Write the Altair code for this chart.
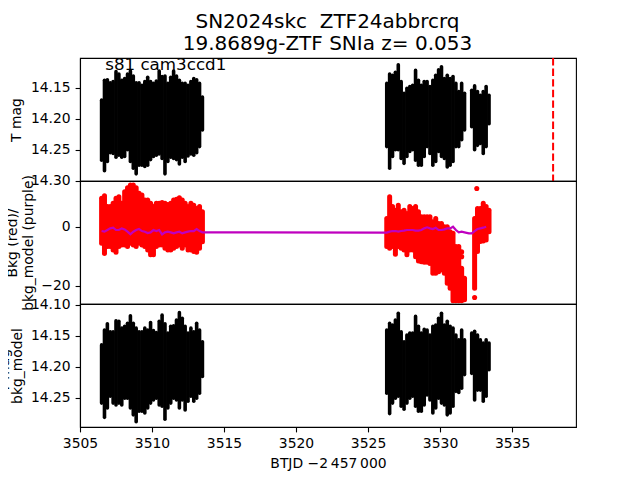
import altair as alt
import pandas as pd

A_X = [3506.5,3506.7,3506.9,3507.1,3507.3,3507.5,3507.7,3507.9,3508.1,3508.3,3508.5,3508.7,3508.9,3509.1,3509.3,3509.5,3509.7,3509.9,
       3510.1,3510.3,3510.5,3510.7,3510.9,3511.1,3511.3,3511.5,3511.7,3511.9,3512.1,3512.3,3512.5,3512.7,3512.9,3513.1,3513.3,3513.5]
B_X = [3526.3,3526.5,3526.7,3526.9,3527.1,3527.3,3527.5,3527.7,3527.9,3528.1,3528.3,3528.5,3528.7,3528.9,
       3529.1,3529.3,3529.5,3529.7,3529.9,3530.1,3530.3,3530.5,3530.7,3530.9,3531.1,3531.3,3531.5,3531.7]
C_X = [3532.2,3532.4,3532.6,3532.8,3533.0,3533.2,3533.4]

MAG_A_TOP = [14.170,14.138,14.137,14.142,14.140,14.124,14.128,14.138,14.135,14.128,14.123,14.131,14.142,14.142,14.146,14.140,14.133,14.140,
             14.143,14.139,14.123,14.132,14.131,14.143,14.133,14.123,14.131,14.138,14.143,14.143,14.146,14.140,14.135,14.137,14.143,14.165]
MAG_A_BOT = [14.267,14.284,14.269,14.255,14.256,14.262,14.259,14.262,14.261,14.250,14.269,14.280,14.289,14.275,14.275,14.277,14.275,14.266,
             14.261,14.259,14.257,14.264,14.289,14.269,14.262,14.264,14.266,14.273,14.262,14.269,14.260,14.257,14.259,14.255,14.245,14.218]
MAG_B_TOP = [14.143,14.128,14.130,14.125,14.113,14.140,14.159,14.151,14.148,14.146,14.122,14.138,14.146,14.140,
             14.140,14.148,14.138,14.130,14.121,14.116,14.135,14.130,14.135,14.132,14.143,14.156,14.143,14.159]
MAG_B_BOT = [14.245,14.280,14.261,14.250,14.250,14.264,14.272,14.261,14.253,14.250,14.267,14.275,14.275,14.261,
             14.245,14.256,14.275,14.269,14.253,14.261,14.264,14.278,14.275,14.269,14.245,14.245,14.234,14.218]
MAG_C_TOP = [14.154,14.147,14.156,14.162,14.156,14.148,14.162]
MAG_C_BOT = [14.213,14.250,14.243,14.240,14.256,14.245,14.208]

BKG_A_TOP = [9.6,10.5,6.8,6.8,7.9,9.6,10.1,7.9,11.8,13.2,14.1,14.1,13.2,11.3,10.7,9.0,9.0,7.9,
             6.8,7.9,7.9,8.2,7.9,7.5,7.9,9.0,9.3,9.8,9.0,7.9,6.8,7.9,7.3,6.2,6.8,5.1]
BKG_A_BOT = [-5.6,-9.0,-6.7,-6.7,-7.9,-8.6,-6.7,-6.2,-6.2,-6.7,-5.6,-6.2,-6.7,-5.6,-6.2,-6.7,-7.9,-9.5,
             -9.5,-6.7,-6.2,-6.2,-7.3,-7.9,-7.9,-7.3,-6.7,-6.2,-7.3,-6.2,-7.9,-7.9,-8.4,-8.6,-7.3,-5.1]
BKG_B_TOP = [2.8,10.1,6.8,5.6,7.3,5.1,5.6,4.5,6.8,6.2,6.8,5.1,3.4,3.4,
             3.4,3.4,1.7,2.8,1.1,1.1,0.0,0.0,-1.7,-2.2,-6.7,-6.7,-14.0,-17.4]
BKG_B_BOT = [-6.7,-7.3,-6.7,-9.3,-6.7,-7.3,-7.9,-9.5,-7.9,-7.9,-10.1,-11.6,-11.8,-12.0,
             -12.0,-12.4,-15.7,-15.7,-15.2,-14.6,-15.7,-19.1,-20.8,-25.0,-25.0,-25.0,-25.0,-24.7]
BKG_C_X = [3532.4,3532.6,3532.8,3533.0,3533.2,3533.4]
BKG_C_TOP = [2.8,6.2,6.2,7.9,6.8,5.6]
BKG_C_BOT = [-20.8,-8.4,-5.0,-4.8,-4.5,-1.7]
BKG_OUT_X = [3532.4,3532.55,3531.5,3531.5]
BKG_OUT_Y = [-23.9,12.9,-10.1,-8.5]

MOD_X = A_X + [3526.1] + B_X + [3532.0] + C_X[:-1]
MOD_Y = [-1.45,-1.67,-1.11,-0.55,-0.32,-1.11,-1.11,-0.55,-0.89,-1.67,-2.57,-1.67,-1.11,-0.77,-1.45,-1.67,-2.12,-1.9,
         -1.11,-1.45,-1.11,-2.57,-1.9,-1.67,-1.9,-2.23,-1.9,-1.67,-2.23,-1.9,-1.67,-1.45,-1.45,-0.77,-1.45,-1.9,
         -2.0,
         -2.0,-1.67,-1.45,-1.45,-1.67,-1.45,-1.33,-1.11,-1.11,-1.11,-1.33,-1.33,-1.11,-0.55,
         -0.2,-0.55,-0.77,-0.32,-1.11,-1.11,-0.89,-0.55,-0.55,0.01,-1.11,-1.9,-1.67,-1.9,
         -2.23,-2.23,-1.45,-0.77,-0.55,-0.32,0.01]

MAG3_A_TOP = [14.165,14.141,14.131,14.144,14.144,14.126,14.127,14.138,14.135,14.130,14.118,14.130,14.138,14.144,14.144,14.138,14.141,14.129,
              14.142,14.145,14.127,14.117,14.131,14.146,14.135,14.134,14.125,14.113,14.122,14.135,14.146,14.138,14.144,14.130,14.141,14.160]
MAG3_A_BOT = [14.259,14.282,14.267,14.248,14.259,14.262,14.259,14.262,14.251,14.251,14.267,14.278,14.289,14.272,14.272,14.275,14.267,14.259,
              14.254,14.251,14.262,14.264,14.285,14.267,14.259,14.251,14.254,14.267,14.254,14.270,14.256,14.248,14.256,14.251,14.243,14.216]
MAG3_B_TOP = [14.141,14.130,14.133,14.125,14.114,14.144,14.160,14.149,14.146,14.146,14.119,14.135,14.146,14.140,
              14.141,14.149,14.135,14.133,14.122,14.114,14.133,14.127,14.135,14.138,14.149,14.157,14.141,14.157]
MAG3_B_BOT = [14.243,14.276,14.259,14.251,14.248,14.264,14.269,14.259,14.251,14.248,14.264,14.272,14.272,14.262,
              14.246,14.254,14.275,14.267,14.251,14.259,14.262,14.278,14.275,14.264,14.240,14.242,14.235,14.213]
MAG3_C_TOP = [14.146,14.143,14.149,14.157,14.162,14.157,14.162]
MAG3_C_BOT = [14.211,14.254,14.238,14.238,14.256,14.248,14.205]

SN_EPOCH = [3537.85]
X_TICKS = [3505,3510,3515,3520,3525,3530,3535]
XDOM = [3505.0, 3539.44]
FONT = "DejaVu Sans"
W, H = 496, 123

def cols(xs, lo, hi):
    return pd.DataFrame({"x": xs, "lo": lo, "hi": hi})

xscale = alt.Scale(domain=XDOM, nice=False, zero=False)
def yaxis(ticks, fmt, title, tx, lh=16.7):
    return alt.Axis(values=ticks, format=fmt, title=title, grid=False, tickSize=4.9, tickWidth=1.1,
                    tickColor="black", domainColor="black", domainWidth=1.1, labelColor="black", titleColor="black",
                    labelFontSize=13.9, titleFontSize=13.9, titleFontWeight="normal", labelFont=FONT,
                    titleFont=FONT, labelOverlap=False, labelFlush=False, titleLineHeight=lh, labelPadding=4.9,
                    titleX=tx, titleAngle=270, titleAlign="center", titleBaseline="bottom")
NOX = alt.X("x:Q", scale=xscale, axis=None)

def band(df, ys, ax, color, sw, x=NOX):
    return alt.Chart(df).mark_rule(color=color, strokeWidth=sw, strokeCap="round", clip=True).encode(
        x=x, y=alt.Y("lo:Q", scale=ys, axis=ax), y2="hi:Q")

# top
ys1 = alt.Scale(domain=[14.3005, 14.102], nice=False, zero=False)
ax1 = yaxis([14.15,14.20,14.25,14.30], ".2f", "T mag", -57)
d1 = cols(A_X+B_X+C_X, MAG_A_BOT+MAG_B_BOT+MAG_C_BOT, MAG_A_TOP+MAG_B_TOP+MAG_C_TOP)
p1 = band(d1, ys1, ax1, "black", 3.6)
vline = alt.Chart(pd.DataFrame({"x": SN_EPOCH})).mark_rule(color="red", strokeWidth=2, strokeDash=[7.4,3.2]).encode(
    x=NOX)
note = alt.Chart(pd.DataFrame({"x": [3506.75], "t": ["s81 cam3ccd1"]})).mark_text(
    font=FONT, fontSize=16.7, align="left", baseline="middle", color="black"
).encode(x=NOX, y=alt.value(7), text="t:N")
top = alt.layer(p1, vline, note).properties(width=W, height=H)

# middle
ys2 = alt.Scale(domain=[-26.1, 15.45], nice=False, zero=False)
ax2 = yaxis([-20,0], "d", ["Bkg (red)/", "bkg_model (purple)"], -61)
d2 = cols(A_X+B_X+BKG_C_X, BKG_A_BOT+BKG_B_BOT+BKG_C_BOT, BKG_A_TOP+BKG_B_TOP+BKG_C_TOP)
p2 = band(d2, ys2, ax2, "red", 5)
out = alt.Chart(pd.DataFrame({"x": BKG_OUT_X, "lo": BKG_OUT_Y})).mark_circle(color="red", size=26, opacity=1).encode(
    x=NOX, y=alt.Y("lo:Q", scale=ys2, axis=ax2))
model = alt.Chart(pd.DataFrame({"x": MOD_X, "lo": MOD_Y})).mark_line(color="#bf00bf", strokeWidth=2.2).encode(
    x=NOX, y=alt.Y("lo:Q", scale=ys2, axis=ax2), order="x:Q")
mid = alt.layer(p2, out, model).properties(width=W, height=H)

# bottom
ys3 = alt.Scale(domain=[14.2976, 14.099], nice=False, zero=False)
ax3 = yaxis([14.10,14.15,14.20,14.25], ".2f", ["T mag -", "bkg_model"], -69, lh=13)
d3 = cols(A_X+B_X+C_X, MAG3_A_BOT+MAG3_B_BOT+MAG3_C_BOT, MAG3_A_TOP+MAG3_B_TOP+MAG3_C_TOP)
xax = alt.X("x:Q", scale=xscale, axis=alt.Axis(values=X_TICKS, format="d", title="BTJD \u22122\u2009457\u2009000", grid=False,
             tickSize=4.9, tickWidth=1.1, tickColor="black", domainColor="black", domainWidth=1.1, labelColor="black", titleColor="black",
             labelFontSize=13.9, titleFontSize=13.9, titleFontWeight="normal", labelFont=FONT, titleFont=FONT,
             labelOverlap=False, labelFlush=False, labelPadding=4.9, titlePadding=5.5))
bot = band(d3, ys3, ax3, "black", 3.6, x=xax).properties(width=W, height=H)

chart = alt.vconcat(top, mid, bot, spacing=0, bounds="flush", title=alt.TitleParams(
    text=["SN2024skc\u00a0\u00a0ZTF24abbrcrq\u00a0", "19.8689g-ZTF SNIa z= 0.053"], font=FONT, fontSize=20, fontWeight="normal",
    anchor="middle", color="black", lineHeight=22, offset=2, dx=41)
).configure_view(stroke="black", strokeWidth=1.1).properties(
    background="white",
    autosize=alt.AutoSizeParams(type="none"),
    padding={"left": 72, "top": 50, "right": 56, "bottom": 414},
)
chart.save("out.html", embed_options={"renderer": "svg", "actions": False})
